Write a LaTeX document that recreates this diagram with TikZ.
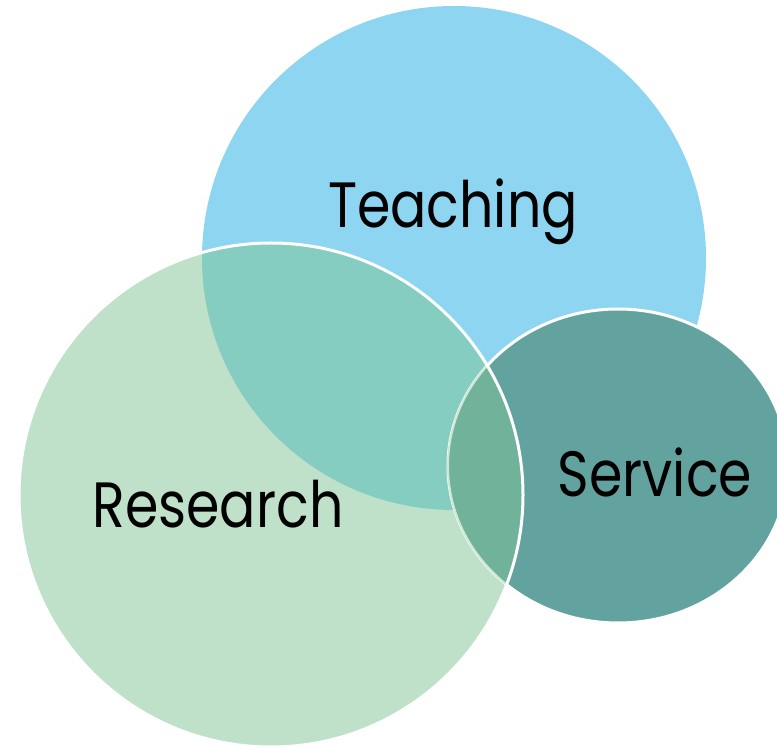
\documentclass[tikz,border=0pt]{standalone}
\usepackage{fontspec}
\setmainfont[FakeStretch=0.84]{Poppins}
\definecolor{teachblue}{HTML}{8DD5F1}
\definecolor{resgreen}{HTML}{BFE1C9}
\definecolor{overlapteal}{HTML}{86CDC1}
\definecolor{servteal}{HTML}{63A39F}
\definecolor{lensgreen}{HTML}{71B39A}
\definecolor{fainthite}{HTML}{CFE8D6}

\begin{document}
\begin{tikzpicture}[x=0.5pt,y=-0.5pt]
      \useasboundingbox (0,0) rectangle (777,748);
      \tikzstyle{rim}=[draw=white,line width=1.5pt]
      \tikzstyle{faintrim}=[draw=fainthite,line width=1pt]
      \tikzstyle{label}=[font=\fontsize{32}{38}\selectfont,text=black,anchor=base]
      \def\teachpath{(454,258) circle (252)}
      \def\respath{(271,495) circle (252)}
      \def\servpath{(618,466) ellipse [x radius=170,y radius=157]}
      % circles
      \fill[teachblue] \teachpath;
      \fill[resgreen] \respath;
      \begin{scope} \clip \teachpath; \fill[overlapteal] \respath; \end{scope}
      \fill[servteal] \servpath;
      \draw[rim] \servpath;
      \begin{scope} \clip \respath; \fill[lensgreen] \servpath; \draw[faintrim] \servpath; \end{scope}
      \draw[rim] \respath;
      % labels
      \node[label] (teaching) at (453,228) {Teaching};
      \node[label] (research) at (218,528) {Research};
      \node[label] (service) at (655,497) {Service};
\end{tikzpicture}
\end{document}
